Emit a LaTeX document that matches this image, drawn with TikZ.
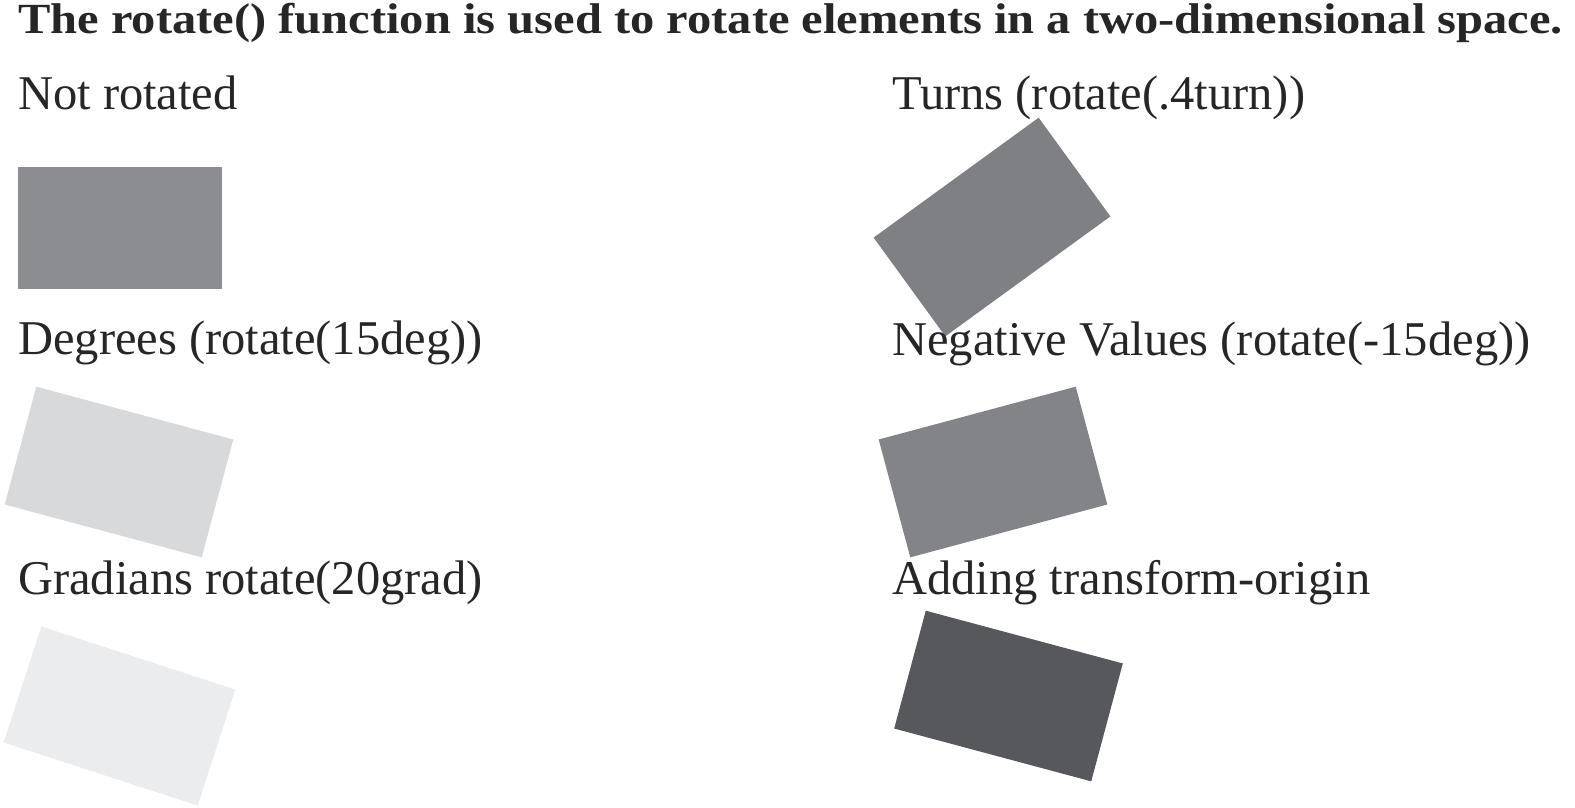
\documentclass[tikz,border=0pt]{standalone}
\usepackage{fontspec}
\setmainfont{Liberation Serif}
\usepackage{xcolor}
\usepackage{tikz}
\usetikzlibrary{positioning}
\definecolor{rtplain}{HTML}{8B8C8F}
\definecolor{rtturn}{HTML}{7F8084}
\definecolor{rtdeg}{HTML}{D8D9DB}
\definecolor{rtneg}{HTML}{838487}
\definecolor{rtgrad}{HTML}{EBECEE}
\definecolor{rtorigin}{HTML}{57585B}
\definecolor{rttext}{HTML}{262626}
\tikzset{
  rtbox/.style={draw=none,minimum width=204pt,minimum height=122pt,inner sep=0pt,outer sep=0pt},
  rtlabel/.style={anchor=base west,inner sep=0pt,text=rttext,font=\fontsize{48.5}{58}\selectfont},
  rttitle/.style={rtlabel,font=\fontsize{43}{52}\selectfont\bfseries}
}

\begin{document}
\begin{tikzpicture}[x=1pt,y=1pt]
    \useasboundingbox (0,0) rectangle (1575,-808);
    \node[rttitle] (title) at (18,-34) {\scalebox{1.128}[1]{The rotate() function is used to rotate elements in a two-dimensional space.}};
    % left column
    \node[rtlabel] (lnone) at (18,-110) {Not rotated};
    \node[rtbox,fill=rtplain] (bnone) at (119.5,-228) {};
    \node[rtlabel] (ldeg) at (18,-354) {Degrees (rotate(15deg))};
    \node[rtbox,fill=rtdeg,rotate=-15] (bdeg) at (119,-472) {};
    \node[rtlabel] (lgrad) at (18,-594) {Gradians rotate(20grad)};
    \node[rtbox,fill=rtgrad,rotate=-18] (bgrad) at (119.5,-716) {};
    % right column
    \node[rtlabel] (lturn) at (892,-110) {Turns (rotate(.4turn))};
    \node[rtbox,fill=rtturn,rotate=36] (bturn) at (992,-227) {};
    \node[rtlabel] (lneg) at (892,-355) {Negative Values (rotate(-15deg))};
    \node[rtbox,fill=rtneg,rotate=15] (bneg) at (993,-472) {};
    \node[rtlabel] (lorigin) at (892,-594) {Adding transform-origin};
    \node[rtbox,fill=rtorigin,rotate=-15] (borigin) at (1008.5,-696) {};
\end{tikzpicture}
\end{document}
